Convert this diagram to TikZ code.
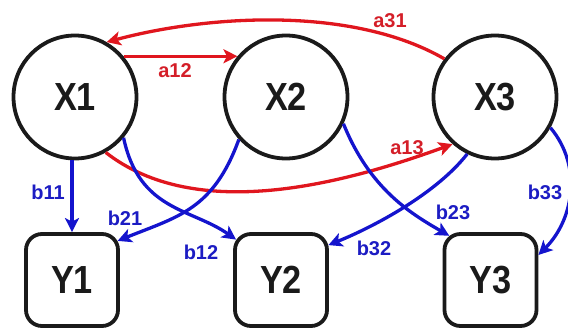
\documentclass[tikz,border=0pt]{standalone}
\usepackage{fontspec}
\setmainfont{Liberation Sans}
\usetikzlibrary{arrows.meta}
\definecolor{edgered}{RGB}{224,22,30}
\definecolor{edgeblue}{RGB}{20,20,205}
\definecolor{labred}{RGB}{212,30,40}
\definecolor{labblue}{RGB}{28,28,195}
\definecolor{ink}{RGB}{26,26,26}
% variable names are set slightly taller than the plain bold face
\newcommand\varname[1]{\scalebox{0.98}[1.12]{#1}}
\begin{document}
\begin{tikzpicture}[x=1pt,y=1pt,
  latent/.style={circle,draw=ink,line width=3.8pt,minimum size=123pt,inner sep=0pt,
    text=ink,font=\fontsize{35}{40}\selectfont\bfseries},
  observed/.style={rectangle,rounded corners=16pt,draw=ink,line width=3.8pt,
    minimum width=92pt,minimum height=92pt,inner sep=0pt,
    text=ink,font=\fontsize{35}{40}\selectfont\bfseries},
  tip/.style={-{Stealth[length=14pt,width=14pt,inset=3.5pt]}},
  redarrow/.style={tip,draw=edgered,line width=3.3pt},
  bluearrow/.style={tip,draw=edgeblue,line width=3.3pt},
  redlab/.style={text=labred,inner sep=0pt,font=\fontsize{20}{22}\selectfont\bfseries},
  bluelab/.style={text=labblue,inner sep=0pt,font=\fontsize{20}{22}\selectfont\bfseries}]
\useasboundingbox (0,0) rectangle (568,-329);

% latent variables
\node[latent] (X1) at (75,-97) {\varname{X1}};
\node[latent] (X2) at (286,-97) {\varname{X2}};
\node[latent] (X3) at (495,-97) {\varname{X3}};

% observed variables
\node[observed] (Y1) at (72,-280) {\varname{Y1}};
\node[observed] (Y2) at (281,-280) {\varname{Y2}};
\node[observed] (Y3) at (490.5,-280) {\varname{Y3}};

% transitions between latent states
\draw[redarrow] (X3.143) to[out=150,in=15,looseness=0.8] (X1.60);
\draw[redarrow] (X1.40) -- (X2.140);
\draw[redarrow] (X1.-61) to[out=-38,in=200,looseness=0.85] (X3.228);

% emissions
\draw[bluearrow] (Y1.north |- X1.south) -- (Y1.north);
\draw[bluearrow] (X1.-40) .. controls +(-78:75) and +(145:55) .. ([shift={(3,-7.5)}]Y2.north west);
\draw[bluearrow] (X2.-138) .. controls +(-110:75) and +(22:65) .. ([shift={(-2.3,-8.8)}]Y1.north east);
\draw[bluearrow] (X2.-25) .. controls +(-68:70) and +(150:45) .. ([shift={(6.7,-3.7)}]Y3.north west);
\draw[bluearrow] (X3.-116) .. controls +(-128:50) and +(22:50) .. ([shift={(-0.5,-13)}]Y2.north east);
\draw[bluearrow] (X3.-29) .. controls +(-50:50) and +(45:50) .. ([yshift=25]Y3.east);

% parameter labels
\node[redlab] (la31) at (390,-21) {a31};
\node[redlab] (la12) at (175,-71) {a12};
\node[redlab] (la13) at (407,-148) {a13};
\node[bluelab] (lb11) at (48,-192) {b11};
\node[bluelab] (lb21) at (125,-218) {b21};
\node[bluelab] (lb12) at (201,-252) {b12};
\node[bluelab] (lb32) at (374,-248) {b32};
\node[bluelab] (lb23) at (453,-212) {b23};
\node[bluelab] (lb33) at (545,-192) {b33};
\end{tikzpicture}
\end{document}
